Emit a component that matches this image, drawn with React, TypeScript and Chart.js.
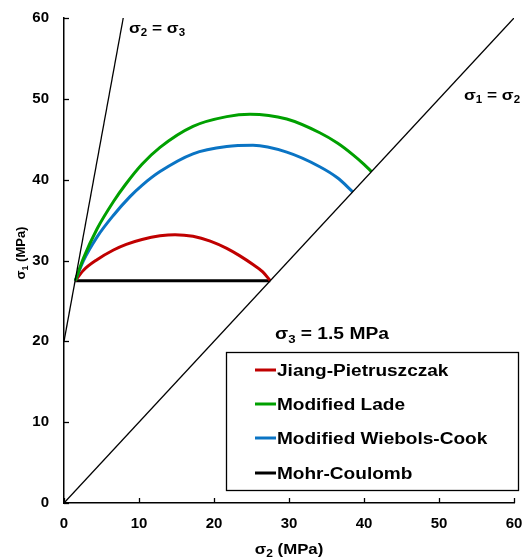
import React, { useEffect, useRef } from 'react';
import { Chart, registerables } from 'chart.js';

Chart.register(...registerables);

// ---- data (MPa) ----
const jpX = [1.5, 2.6, 4.4, 6.6, 8.3, 10.4, 12.8, 14.8, 17.2, 19.5, 21.7, 23.4, 25.2, 26.5, 27.5];
const jpY = [27.5, 28.8, 30.1, 31.3, 32.0, 32.6, 33.05, 33.2, 33.0, 32.4, 31.5, 30.6, 29.5, 28.6, 27.5];

const mlX = [1.5, 2.6, 4.4, 6.6, 8.2, 10.4, 12.8, 17.2, 21.7, 24.8, 29.7, 34.1, 36.5, 38.5, 40.0, 41.0];
const mlY = [27.5, 30.3, 33.9, 37.3, 39.4, 41.9, 44.0, 46.6, 47.8, 48.1, 47.5, 45.8, 44.5, 43.1, 41.9, 41.0];

const mwcX = [1.5, 2.6, 4.4, 6.6, 8.8, 10.4, 12.8, 17.2, 21.7, 25.2, 29.7, 34.1, 36.5, 38.5];
const mwcY = [27.5, 30.0, 32.9, 35.6, 37.9, 39.3, 41.0, 43.2, 44.1, 44.25, 43.4, 41.6, 40.2, 38.5];

const mcX = [1.5, 27.5];
const mcY = [27.5, 27.5];

const s23X = [0, 7.9];
const s23Y = [20, 60];

const s12X = [0, 60];
const s12Y = [0, 60];

const seriesNames = ['Jiang-Pietruszczak', 'Modified Lade', 'Modified Wiebols-Cook', 'Mohr-Coulomb'];
const seriesColors = ['#C00000', '#00A000', '#0A74C4', '#000000'];

const axisMin = 0;
const axisMax = 60;
const tickStep = 10;

const FONT = '"Liberation Sans", Arial, Helvetica, sans-serif';

type Seg = { t: string; sub?: boolean };

function pts(xs: number[], ys: number[]) {
  return xs.map((x, i) => ({ x, y: ys[i] }));
}

function drawRich(
  ctx: CanvasRenderingContext2D,
  segs: Seg[],
  x: number,
  y: number,
  size: number,
  align: 'left' | 'center',
  sx = 1,
) {
  const subSize = Math.round(size * 0.68);
  const widths = segs.map((s) => {
    ctx.font = `bold ${s.sub ? subSize : size}px ${FONT}`;
    return ctx.measureText(s.t).width;
  });
  const total = widths.reduce((a, b) => a + b, 0);
  ctx.save();
  ctx.translate(x, y);
  ctx.scale(sx, 1);
  let cx = align === 'center' ? -total / 2 : 0;
  ctx.textAlign = 'left';
  ctx.textBaseline = 'alphabetic';
  segs.forEach((s, i) => {
    ctx.font = `bold ${s.sub ? subSize : size}px ${FONT}`;
    ctx.fillText(s.t, cx, s.sub ? size * 0.22 : 0);
    cx += widths[i];
  });
  ctx.restore();
}

const decorPlugin = {
  id: 'decor',
  afterDraw(chart: any) {
    const { ctx, chartArea } = chart;
    const xs = chart.scales.x;
    const ys = chart.scales.y;
    ctx.save();
    // inside tick marks
    ctx.strokeStyle = '#000';
    ctx.lineWidth = 1.3;
    xs.ticks.forEach((t: any) => {
      const px = Math.round(xs.getPixelForValue(t.value)) + 0.5;
      ctx.beginPath();
      ctx.moveTo(px, chartArea.bottom);
      ctx.lineTo(px, chartArea.bottom - 5);
      ctx.stroke();
    });
    ys.ticks.forEach((t: any) => {
      const py = Math.round(ys.getPixelForValue(t.value)) + 0.5;
      ctx.beginPath();
      ctx.moveTo(chartArea.left, py);
      ctx.lineTo(chartArea.left + 5, py);
      ctx.stroke();
    });

    ctx.fillStyle = '#000';
    // axis titles
    drawRich(ctx, [{ t: 'σ' }, { t: '2', sub: true }, { t: ' (MPa)' }], (chartArea.left + chartArea.right) / 2, 554, 14, 'center', 1.2);
    ctx.save();
    ctx.translate(25, 253);
    ctx.rotate(-Math.PI / 2);
    drawRich(ctx, [{ t: 'σ' }, { t: '1', sub: true }, { t: ' (MPa)' }], 0, 0, 13, 'center', 1);
    ctx.restore();

    // annotations
    drawRich(ctx, [{ t: 'σ' }, { t: '2', sub: true }, { t: ' = σ' }, { t: '3', sub: true }], 129, 33, 15, 'left', 1.15);
    drawRich(ctx, [{ t: 'σ' }, { t: '1', sub: true }, { t: ' = σ' }, { t: '2', sub: true }], 464, 100, 15, 'left', 1.15);
    drawRich(ctx, [{ t: 'σ' }, { t: '3', sub: true }, { t: ' = 1.5 MPa' }], 275, 339, 16, 'left', 1.2);

    // legend box
    const bx = 226, by = 352, bw = 292, bh = 138;
    ctx.fillStyle = '#fff';
    ctx.fillRect(bx, by, bw, bh);
    ctx.strokeStyle = '#000';
    ctx.lineWidth = 1.3;
    ctx.strokeRect(bx + 0.5, by + 0.5, bw, bh);
    const rowY = [370, 404, 438, 473];
    seriesNames.forEach((name, i) => {
      ctx.strokeStyle = seriesColors[i];
      ctx.lineWidth = 3;
      ctx.beginPath();
      ctx.moveTo(255, rowY[i]);
      ctx.lineTo(276, rowY[i]);
      ctx.stroke();
      ctx.fillStyle = '#000';
      drawRich(ctx, [{ t: name }], 277, rowY[i] + 6, 16, 'left', 1.19);
    });
    ctx.restore();
  },
};

export default function App() {
  const ref = useRef<HTMLCanvasElement | null>(null);

  useEffect(() => {
    if (!ref.current) return;
    const curve = (label: string, xs: number[], ys: number[], color: string) => ({
      label,
      data: pts(xs, ys),
      showLine: true,
      borderColor: color,
      backgroundColor: color,
      borderWidth: 3,
      pointRadius: 0,
      cubicInterpolationMode: 'monotone' as const,
    });
    const chart = new Chart(ref.current, {
      type: 'scatter',
      data: {
        datasets: [
          { label: 'σ2 = σ3', data: pts(s23X, s23Y), showLine: true, borderColor: '#000', borderWidth: 1.3, pointRadius: 0 },
          { label: 'σ1 = σ2', data: pts(s12X, s12Y), showLine: true, borderColor: '#000', borderWidth: 1.3, pointRadius: 0 },
          curve(seriesNames[1], mlX, mlY, seriesColors[1]),
          curve(seriesNames[2], mwcX, mwcY, seriesColors[2]),
          curve(seriesNames[0], jpX, jpY, seriesColors[0]),
          { label: seriesNames[3], data: pts(mcX, mcY), showLine: true, borderColor: seriesColors[3], borderWidth: 3, pointRadius: 0 },
        ],
      },
      options: {
        animation: false,
        responsive: false,
        maintainAspectRatio: false,
        layout: { padding: { top: 18, right: 12, left: 0, bottom: 0 } },
        plugins: { legend: { display: false }, tooltip: { enabled: false } },
        scales: {
          x: {
            type: 'linear',
            min: axisMin,
            max: axisMax,
            ticks: { stepSize: tickStep, color: '#000', font: { family: FONT, size: 15, weight: 'bold' }, padding: 12, maxRotation: 0 },
            grid: { display: true, drawOnChartArea: false, drawTicks: false },
            border: { display: true, color: '#000', width: 1.5 },
            afterFit: (s: any) => {
              s.height = 55;
              s.paddingLeft = 0;
              s.paddingRight = 0;
            },
          },
          y: {
            type: 'linear',
            min: axisMin,
            max: axisMax,
            ticks: { stepSize: tickStep, color: '#000', font: { family: FONT, size: 15, weight: 'bold' }, padding: 15 },
            grid: { display: true, drawOnChartArea: false, drawTicks: false },
            border: { display: true, color: '#000', width: 1.5 },
            afterFit: (s: any) => {
              s.width = 64;
              s.paddingTop = 0;
              s.paddingBottom = 0;
            },
          },
        },
      },
      plugins: [decorPlugin],
    });
    return () => chart.destroy();
  }, []);

  return (
    <div style={{ position: 'fixed', left: 0, top: 0, width: 526, height: 558, background: '#fff' }}>
      <canvas ref={ref} width={526} height={558} style={{ width: 526, height: 558, display: 'block' }} />
    </div>
  );
}
